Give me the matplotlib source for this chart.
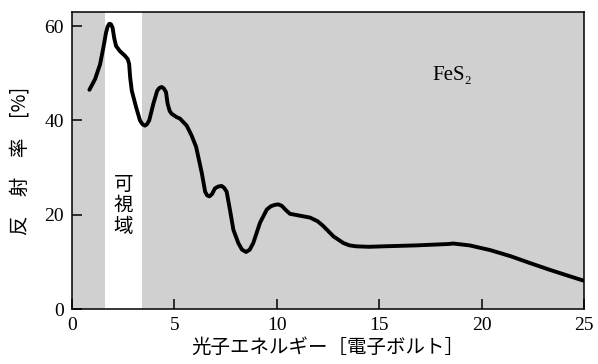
import matplotlib.pyplot as plt

# reflectance spectrum of FeS2 (photon energy in eV, reflectance in %)
energy = [0.85, 1.13, 1.37, 1.53, 1.66, 1.74, 1.82, 1.90, 1.98, 2.06, 2.15,
          2.34, 2.59, 2.72, 2.79, 2.84, 2.92, 3.13, 3.32, 3.44, 3.56, 3.66,
          3.77, 3.97, 4.16, 4.27, 4.38, 4.48, 4.59, 4.67, 4.77, 4.87, 5.11,
          5.27, 5.60, 5.84, 6.06, 6.34, 6.50, 6.60, 6.71, 6.84, 6.98, 7.15,
          7.31, 7.43, 7.55, 7.71, 7.88, 8.12, 8.30, 8.50, 8.68, 8.85, 9.18,
          9.51, 9.71, 9.91, 10.07, 10.24, 10.44, 10.64, 11.13, 11.62, 12.00,
          12.27, 12.77, 13.25, 13.55, 13.88, 14.50, 15.19, 16.80, 18.41,
          18.61, 19.41, 20.42, 21.42, 22.33, 23.34, 24.34, 25.0]
reflectance = [46.5, 48.8, 51.9, 55.4, 58.6, 59.9, 60.5, 60.4, 59.7, 57.5, 55.8,
               54.7, 53.7, 53.0, 52.0, 49.1, 46.3, 42.8, 40.0, 39.2, 38.9, 39.2,
               40.0, 43.5, 46.3, 46.9, 47.1, 46.8, 46.0, 43.5, 42.0, 41.4, 40.7,
               40.4, 38.9, 36.8, 34.4, 28.8, 24.9, 24.1, 23.9, 24.4, 25.6, 26.0,
               26.1, 25.7, 24.9, 21.1, 16.8, 14.0, 12.6, 12.1, 12.6, 14.0, 18.3,
               21.1, 21.8, 22.1, 22.2, 21.9, 21.0, 20.2, 19.8, 19.4, 18.6,
               17.6, 15.4, 14.0, 13.5, 13.3, 13.2, 13.3, 13.5, 13.8,
               13.9, 13.5, 12.5, 11.2, 9.8, 8.3, 6.9, 6.0]

# visible light window
visible = [1.6, 3.4]

xticks = [0, 5, 10, 15, 20, 25]
yticks = [0, 20, 40, 60]

jp = ['Noto Sans CJK JP', 'DejaVu Sans']
serif = ['Liberation Serif', 'DejaVu Serif']

fig = plt.figure(figsize=(5.98, 3.64), dpi=100)
ax = fig.add_axes([0.1204, 0.151, 0.8562, 0.816])

shade = '#d0d0d0'
ax.axvspan(0, visible[0], color=shade, lw=0, zorder=0)
ax.axvspan(visible[1], 25, color=shade, lw=0, zorder=0)

ax.plot(energy, reflectance, color='black', lw=2.8,
        solid_joinstyle='round', solid_capstyle='round', zorder=3)

ax.text(sum(visible) / 2, 21.9, '可\n視\n域', family=jp, fontsize=14,
        ha='center', va='center', linespacing=1.0)
ax.text(18.55, 49.5, 'FeS₂', family=serif, fontsize=15,
        ha='center', va='center')

ax.set_xlim(0, 25)
ax.set_ylim(0, 63)
ax.set_xticks(xticks)
ax.set_yticks(yticks)
ax.tick_params(direction='in', length=7, width=1.1, labelsize=14, pad=6,
               top=False, right=False)
for lab in ax.get_xticklabels() + ax.get_yticklabels():
    lab.set_family(serif)
for sp in ax.spines.values():
    sp.set_linewidth(1.1)

ax.set_xlabel('光子エネルギー［電子ボルト］', family=jp, fontsize=14, labelpad=2)
ax.set_ylabel('反　射　率　[%]', family=jp, fontsize=14, labelpad=10)

fig.savefig('out.png', dpi=100)
